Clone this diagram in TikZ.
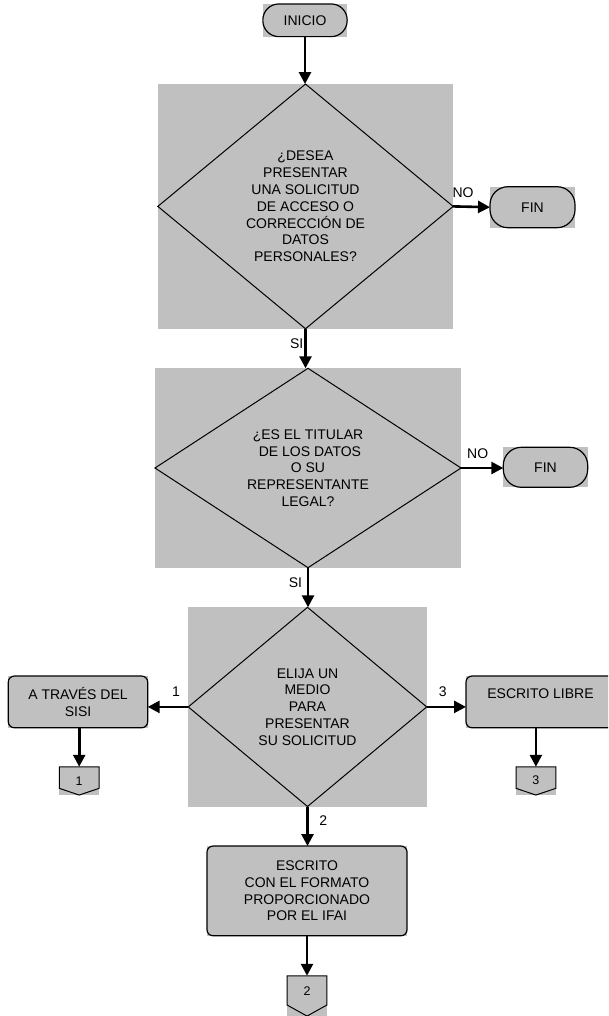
\documentclass[tikz,border=0pt]{standalone}
\usepackage{fontspec}
\setmainfont{Liberation Sans}
\usetikzlibrary{arrows.meta}
\definecolor{panel}{RGB}{192,192,192}
\begin{document}
\begin{tikzpicture}[x=1pt,y=-1pt,
  panelbox/.style={rectangle, fill=panel, inner sep=0pt, outer sep=0pt,
    align=center, font=\fontsize{14}{16.8}\selectfont},
  flow/.style={line width=2.6pt, -{Triangle[length=12pt,width=12pt]}},
  outline/.style={draw=black, line width=1.2pt},
  rhomb/.style={draw=black, line width=1pt},
  lbl/.style={font=\fontsize{14}{16}\selectfont, inner sep=0pt},
  pagelbl/.style={font=\fontsize{12.5}{14}\selectfont, inner sep=0pt}]
\useasboundingbox (0,0) rectangle (608,1016);
\clip (0,0) rectangle (608,1016);

% terminals
\node[panelbox, minimum width=84.3pt, minimum height=32.7pt] (inicio) at (305,20.3) {INICIO};
\node[panelbox, minimum width=85pt, minimum height=41pt] (fin1) at (532.5,207.2) {FIN};
\node[panelbox, minimum width=84.4pt, minimum height=40pt] (fin2) at (545.5,467.3) {FIN};

% decisions (grey frame with the rhombus drawn on it)
\node[panelbox, minimum width=295.3pt, minimum height=244.7pt] (d1) at (305.5,206.4)
  {¿DESEA\\PRESENTAR\\UNA SOLICITUD\\DE ACCESO O\\CORRECCIÓN DE\\DATOS\\PERSONALES?};
\node[panelbox, minimum width=306pt, minimum height=199.4pt] (d2) at (308,468)
  {¿ES EL TITULAR\\\ DE LOS DATOS\\O SU\\REPRESENTANTE\\LEGAL?};
\node[panelbox, minimum width=238.4pt, minimum height=199.2pt] (d3) at (307.5,706.9)
  {ELIJA UN\\MEDIO\\PARA\\PRESENTAR\\SU SOLICITUD};

% processes
\node[panelbox, minimum width=139.4pt, minimum height=51.7pt] (sisi) at (78,701.9)
  {A TRAVÉS DEL\\SISI};
\node[panelbox, minimum width=149pt, minimum height=51.7pt] (libre) at (540.5,701.9)
  {ESCRITO LIBRE\\\mbox{}};
\node[panelbox, minimum width=200pt, minimum height=89.7pt] (formato) at (307,890.9)
  {ESCRITO\\CON EL FORMATO\\PROPORCIONADO\\POR EL IFAI};

% off-page connectors
\node[panelbox, minimum width=39.7pt, minimum height=28.3pt] (c1) at (79.2,780.9) {};
\node[panelbox, minimum width=39.7pt, minimum height=28.3pt] (c3) at (535.9,780.9) {};
\node[panelbox, minimum width=39.7pt, minimum height=40.3pt] (c2) at (307,995.9) {};
\node[pagelbl] at ([yshift=0pt]c1.center) {1};
\node[pagelbl] at ([yshift=0.5pt]c3.center) {3};
\node[pagelbl] at ([yshift=5pt]c2.center) {2};

% outlines
\draw[outline, rounded corners=16pt] (inicio.south west) rectangle (inicio.north east);
\draw[outline, rounded corners=18pt] (fin1.south west) rectangle (fin1.north east);
\draw[outline, rounded corners=18pt] (fin2.south west) rectangle (fin2.north east);
\foreach \d in {d1,d2,d3}
  \draw[rhomb] (\d.north) -- (\d.east) -- (\d.south) -- (\d.west) -- cycle;
\foreach \b in {sisi,libre,formato}
  \draw[outline, rounded corners=6pt] (\b.south west) rectangle (\b.north east);
\draw[rhomb] (c1.north west) -- (c1.north east) -- ([yshift=6.7pt]c1.south east)
  -- (c1.south) -- ([yshift=6.7pt]c1.south west) -- cycle;
\draw[rhomb] (c3.north west) -- (c3.north east) -- ([yshift=6.7pt]c3.south east)
  -- (c3.south) -- ([yshift=6.7pt]c3.south west) -- cycle;
\draw[rhomb] (c2.north west) -- (c2.north east) -- ([yshift=11pt]c2.south east)
  -- (c2.south) -- ([yshift=11pt]c2.south west) -- cycle;

% connectors
\draw[flow] (inicio.south) -- (inicio.south |- d1.north);
\draw[flow] (d1.east) -- (fin1.west);
\draw[flow] (d1.south) -- (d1.south |- d2.north);
\draw[flow] (d2.east) -- (d2.east -| fin2.west);
\draw[flow] (d2.south) -- (d2.south |- d3.north);
\draw[flow] (d3.west) -- (sisi.east |- d3.west);
\draw[flow] (d3.east) -- (libre.west |- d3.east);
\draw[flow] (d3.south) -- (d3.south |- formato.north);
\draw[flow] (c1.north |- sisi.south) -- (c1.north);
\draw[flow] (c3.north |- libre.south) -- (c3.north);
\draw[flow] (formato.south) -- (formato.south |- c2.north);

% branch labels
\node[lbl] (no1) at (463,192.7) {NO};
\node[lbl] (no2) at (477.7,453.3) {NO};
\node[lbl] (si1) at (296.7,343.3) {SI};
\node[lbl] (si2) at (295.5,582.5) {SI};
\node[lbl] (op1) at (176,691.7) {1};
\node[lbl] (op3) at (442.7,691.7) {3};
\node[lbl] (op2) at (323.3,820.7) {2};
\end{tikzpicture}
\end{document}
